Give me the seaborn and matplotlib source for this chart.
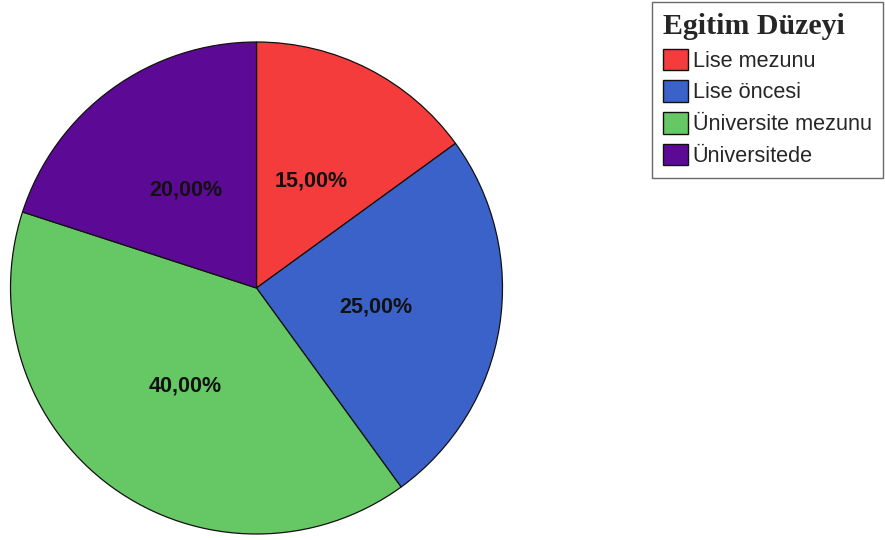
import matplotlib
matplotlib.use("Agg")
import matplotlib.pyplot as plt
import seaborn as sns

# Education level distribution
categories = ["Lise mezunu", "Lise öncesi", "Üniversite mezunu", "Üniversitede"]
shares = [15.0, 25.0, 40.0, 20.0]
colors = ["#F43C3C", "#3A62C8", "#66C864", "#5C0A96"]
legend_title = "Egitim Düzeyi"

sns.set_theme(style="white")
plt.rcParams["font.family"] = ["Liberation Sans", "DejaVu Sans"]

W, H = 885, 540
fig = plt.figure(figsize=(W / 100, H / 100), dpi=100)
fig.patch.set_facecolor("white")

cx, cy, r = 256.5, 288, 246
ax = fig.add_axes([(cx - r) / W, (H - cy - r) / H, 2 * r / W, 2 * r / H])

wedges, texts, autotexts = ax.pie(
    shares,
    colors=colors,
    startangle=90,
    counterclock=False,
    autopct=lambda p: f"{p:.2f}".replace(".", ",") + "%",
    pctdistance=0.49,
    wedgeprops=dict(edgecolor="#111111", linewidth=0.9),
    textprops=dict(fontsize=15.5, fontweight="bold", color="#111111"),
)
ax.set_xlim(-1.0, 1.0)
ax.set_ylim(-1.0, 1.0)
ax.set_aspect("equal")

leg = fig.legend(
    wedges,
    categories,
    title=legend_title,
    loc="upper left",
    bbox_to_anchor=(652 / W, 1 - 2 / H),
    borderaxespad=0,
    frameon=True,
    fancybox=False,
    fontsize=15.6,
    handlelength=1.15,
    handleheight=1.15,
    handletextpad=0.23,
    labelspacing=0.4,
    borderpad=0.5,
    alignment="left",
)
leg.get_title().set_fontfamily(["Liberation Serif", "DejaVu Serif"])
leg.get_title().set_fontweight("bold")
leg.get_title().set_fontsize(21.5)
frame = leg.get_frame()
frame.set_edgecolor("#444444")
frame.set_linewidth(1.0)
frame.set_facecolor("white")
for h in leg.legend_handles:
    h.set_edgecolor("#111111")
    h.set_linewidth(1.0)

fig.savefig("out.png", dpi=100, facecolor="white")
